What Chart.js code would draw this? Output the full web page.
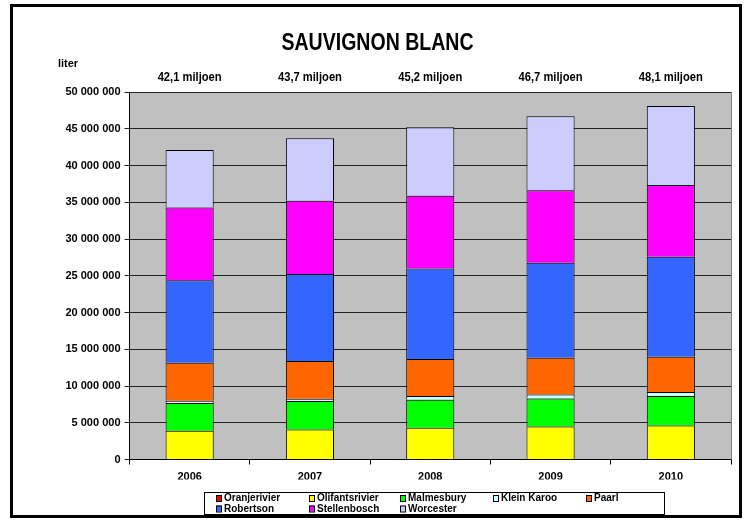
<!DOCTYPE html>
<html>
<head>
<meta charset="utf-8">
<script src="https://cdn.jsdelivr.net/npm/chart.js@4/dist/chart.umd.min.js"></script>
<style>
  html, body { margin: 0; padding: 0; background: #fff; }
  #wrap { width: 749px; height: 520px; }
</style>
</head>
<body>
<div id="wrap"><canvas id="chart" width="749" height="520"></canvas></div>
<script>
// jaren en totalen
const years = ['2006', '2007', '2008', '2009', '2010'];
const totalLabels = ['42,1 miljoen', '43,7 miljoen', '45,2 miljoen', '46,7 miljoen', '48,1 miljoen'];

// liter per streek
const oranjerivier   = [30000, 30000, 30000, 30000, 30000];
const olifantsrivier = [3880000, 4060000, 4290000, 4460000, 4600000];
const malmesbury     = [3770000, 3860000, 3810000, 3810000, 4000000];
const kleinKaroo     = [300000, 300000, 500000, 550000, 540000];
const paarl          = [5190000, 5140000, 5040000, 5000000, 4820000];
const robertson      = [11210000, 11840000, 12330000, 12930000, 13610000];
const stellenbosch   = [9920000, 9960000, 9900000, 9850000, 9750000];
const worcester      = [7800000, 8510000, 9300000, 10070000, 10750000];

const yTicks = [0, 5000000, 10000000, 15000000, 20000000, 25000000, 30000000, 35000000, 40000000, 45000000, 50000000];

const FONT = '"Liberation Sans", Arial, sans-serif';

const series = [
    { label: 'Oranjerivier', data: oranjerivier, color: '#ff0000' },
    { label: 'Olifantsrivier', data: olifantsrivier, color: '#ffff00' },
    { label: 'Malmesbury', data: malmesbury, color: '#00ff00' },
    { label: 'Klein Karoo', data: kleinKaroo, color: '#ccffff' },
    { label: 'Paarl', data: paarl, color: '#ff6600' },
    { label: 'Robertson', data: robertson, color: '#3366ff' },
    { label: 'Stellenbosch', data: stellenbosch, color: '#ff00ff' },
    { label: 'Worcester', data: worcester, color: '#ccccff' }
];

function spaced(v) {
    return String(v).replace(/\B(?=(\d{3})+(?!\d))/g, ' ');
}

// achtergrond, titel, kader en legenda
const decor = {
    id: 'decor',
    beforeDraw(chart) {
        const ctx = chart.ctx;
        const a = chart.chartArea;
        ctx.save();
        ctx.fillStyle = '#fff';
        ctx.fillRect(0, 0, chart.width, chart.height);
        ctx.fillStyle = '#c0c0c0';
        ctx.fillRect(a.left, a.top, a.right - a.left, a.bottom - a.top);
        ctx.restore();
    },
    afterDraw(chart) {
        const ctx = chart.ctx;
        const a = chart.chartArea;
        const xs = chart.scales.x;
        ctx.save();

        // rechterrand plot
        ctx.strokeStyle = '#808080';
        ctx.lineWidth = 1;
        ctx.beginPath();
        ctx.moveTo(a.right + 0.5, a.top);
        ctx.lineTo(a.right + 0.5, a.bottom);
        ctx.stroke();

        // buitenkader
        ctx.strokeStyle = '#000';
        ctx.lineWidth = 3;
        ctx.strokeRect(11.5, 5.5, 729, 511);

        // titel
        ctx.fillStyle = '#000';
        ctx.textAlign = 'center';
        ctx.textBaseline = 'alphabetic';
        ctx.font = 'bold 24px ' + FONT;
        ctx.fillText('SAUVIGNON BLANC', 377.5, 50, 192);

        ctx.font = 'bold 11px ' + FONT;
        ctx.textBaseline = 'middle';
        ctx.fillText('liter', 68, 64);

        // totalen boven de staven
        ctx.font = 'bold 12px ' + FONT;
        totalLabels.forEach((t, i) => {
            ctx.fillText(t, xs.getPixelForValue(i), 78, 64);
        });

        // legenda: 5 op de eerste rij, 3 op de tweede
        ctx.lineWidth = 1;
        ctx.strokeStyle = '#000';
        ctx.strokeRect(204.5, 492.5, 460, 22);
        const cols = [216, 309, 400, 493, 586];
        const rows = [498, 508.5];
        ctx.font = 'bold 10px ' + FONT;
        ctx.textAlign = 'left';
        series.forEach((s, k) => {
            const r = k < 5 ? 0 : 1;
            const c = k < 5 ? k : k - 5;
            const x = cols[c];
            const y = rows[r];
            ctx.fillStyle = s.color;
            ctx.fillRect(x, y - 3, 5, 6);
            ctx.strokeStyle = '#000';
            ctx.strokeRect(x + 0.5, y - 2.5, 5, 6);
            ctx.fillStyle = '#000';
            ctx.fillText(s.label, x + 8, y + 0.5, 80);
        });
        ctx.restore();
    }
};

new Chart(document.getElementById('chart'), {
    type: 'bar',
    data: {
        labels: years,
        datasets: series.map(s => ({
            label: s.label,
            data: s.data,
            backgroundColor: s.color,
            borderColor: '#000',
            borderWidth: 1,
            categoryPercentage: 1,
            barPercentage: 0.4
        }))
    },
    options: {
        responsive: false,
        animation: false,
        layout: { padding: { left: 0, right: 18, top: 92, bottom: 40.5 } },
        plugins: {
            legend: { display: false },
            title: { display: false },
            tooltip: { enabled: false }
        },
        scales: {
            x: {
                stacked: true,
                afterFit(scale) { scale.height = 20; },
                grid: {
                    display: true,
                    drawOnChartArea: false,
                    drawTicks: true,
                    tickLength: 5,
                    color: '#000',
                    offset: true
                },
                border: { display: true, color: '#000', width: 1 },
                ticks: {
                    color: '#000',
                    padding: 6,
                    font: { family: FONT, size: 11, weight: 'bold' }
                }
            },
            y: {
                stacked: true,
                min: 0,
                max: 50000000,
                afterFit(scale) { scale.width = 129.5; },
                afterBuildTicks(scale) {
                    scale.ticks = yTicks.map(v => ({ value: v }));
                },
                grid: {
                    color: '#222',
                    lineWidth: 1,
                    tickLength: 5
                },
                border: { display: true, color: '#000', width: 1 },
                ticks: {
                    color: '#000',
                    padding: 4,
                    font: { family: FONT, size: 11, weight: 'bold' },
                    callback: v => spaced(v)
                }
            }
        }
    },
    plugins: [decor]
});
</script>
</body>
</html>
